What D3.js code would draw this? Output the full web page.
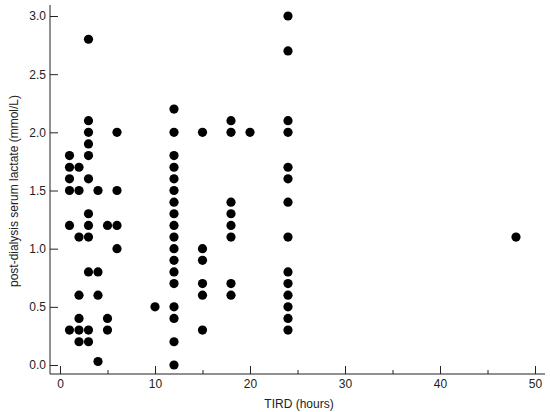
<!DOCTYPE html>
<html>
<head>
<meta charset="utf-8">
<script src="https://cdn.jsdelivr.net/npm/d3@7"></script>
<style>
  html, body { margin: 0; padding: 0; background: #fff; }
  svg { display: block; }
  text { font-family: "Liberation Sans", Arial, sans-serif; font-size: 12px; fill: #222; }
</style>
</head>
<body>
<svg id="chart" width="550" height="412"></svg>
<script>
// Data (TIRD hours vs post-dialysis lactate)
const tird = [
  1,1,1,1,1,1,
  2,2,2,2,2,2,2,
  3,3,3,3,3,3,3,3,3,3,3,3,
  4,4,4,4,
  5,5,5,
  6,6,6,6,
  10,
  12,12,12,12,12,12,12,12,12,12,12,12,12,12,12,12,12,12,
  15,15,15,15,15,15,
  18,18,18,18,18,18,18,18,
  20,
  24,24,24,24,24,24,24,24,24,24,24,24,24,24,
  48
];
const lactate = [
  1.8,1.7,1.6,1.5,1.2,0.3,
  1.7,1.5,1.1,0.6,0.4,0.3,0.2,
  2.8,2.1,2.0,1.9,1.8,1.6,1.3,1.2,1.1,0.8,0.3,0.2,
  1.5,0.8,0.6,0.03,
  1.2,0.4,0.3,
  2.0,1.5,1.2,1.0,
  0.5,
  2.2,2.0,1.8,1.7,1.6,1.5,1.4,1.3,1.2,1.1,1.0,0.9,0.8,0.7,0.5,0.4,0.2,0.0,
  2.0,1.0,0.9,0.7,0.6,0.3,
  2.1,2.0,1.4,1.3,1.2,1.1,0.7,0.6,
  2.0,
  3.0,2.7,2.1,2.0,1.7,1.6,1.4,1.1,0.8,0.7,0.6,0.5,0.4,0.3,
  1.1
];
const xMajorTicks = [0, 10, 20, 30, 40, 50];
const xMinorTicks = [5, 15, 25, 35, 45];
const yTicks = [0, 0.5, 1.0, 1.5, 2.0, 2.5, 3.0];
const xTitle = "TIRD (hours)";
const yTitle = "post-dialysis serum lactate (mmol/L)";

const svg = d3.select("#chart");
const x = d3.scaleLinear().domain([0, 50]).range([60, 535]);
const y = d3.scaleLinear().domain([0, 3]).range([365, 16]);

const axisX = 50, axisY = 374;
const xEnd = x.invert(545), yTop = y.invert(5);

// axis lines
svg.append("line")
  .attr("x1", axisX).attr("x2", axisX)
  .attr("y1", y(yTop)).attr("y2", axisY)
  .attr("stroke", "#222").attr("stroke-width", 1);
svg.append("line")
  .attr("x1", axisX).attr("x2", x(xEnd))
  .attr("y1", axisY).attr("y2", axisY)
  .attr("stroke", "#222").attr("stroke-width", 1);

// y axis
const gy = svg.append("g").attr("transform", `translate(${axisX},0)`)
  .call(d3.axisLeft(y).tickValues(yTicks).tickFormat(d3.format(".1f"))
    .tickSize(-8).tickPadding(4));
gy.select(".domain").remove();
gy.selectAll("line").attr("stroke", "#222");
gy.selectAll("text").attr("font-size", 12).attr("font-family", null).style("fill", "#222");

// x axis major
const gx = svg.append("g").attr("transform", `translate(0,${axisY})`)
  .call(d3.axisBottom(x).tickValues(xMajorTicks).tickFormat(d3.format("d"))
    .tickSize(-8).tickPadding(5));
gx.select(".domain").remove();
gx.selectAll("line").attr("stroke", "#222");
gx.selectAll("text").attr("font-size", 12).attr("font-family", null).style("fill", "#222");

// x axis minor
const gxm = svg.append("g").attr("transform", `translate(0,${axisY})`)
  .call(d3.axisBottom(x).tickValues(xMinorTicks).tickFormat("").tickSize(-4));
gxm.select(".domain").remove();
gxm.selectAll("line").attr("stroke", "#222");

// titles
svg.append("text")
  .attr("x", 299).attr("y", 408)
  .attr("text-anchor", "middle")
  .text(xTitle);
svg.append("text")
  .attr("transform", "translate(18,191) rotate(-90)")
  .attr("text-anchor", "middle")
  .text(yTitle);

// points
svg.append("g").selectAll("circle")
  .data(tird.map((t, i) => ({ t, v: lactate[i] })))
  .join("circle")
  .attr("cx", d => x(d.t))
  .attr("cy", d => y(d.v))
  .attr("r", 4.6)
  .attr("fill", "#000");
</script>
</body>
</html>
